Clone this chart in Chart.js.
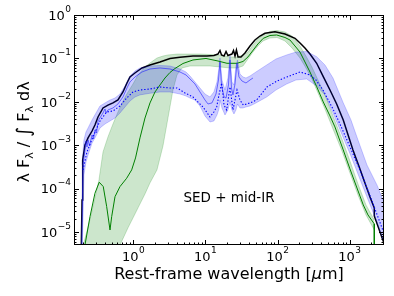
<!DOCTYPE html>
<html><head><meta charset="utf-8">
<script src="https://cdn.jsdelivr.net/npm/chart.js@4.4.0/dist/chart.umd.min.js"></script>
<style>html,body{margin:0;padding:0;background:#fff}canvas{display:block}</style>
</head><body>
<canvas id="c" width="394" height="296"></canvas>
<script>
// ---- data (wavelength in micron, flux = lambda F_lambda / integral) ----
const blackWave = [0.189,0.194,0.198,0.213,0.235,0.267,0.293,0.323,0.379,0.444,0.521,0.611,0.717,0.815,0.897,1.05,1.32,1.70,2.34,3.22,4.43,6.71,10.5,13.1,14.9,15.9,16.7,18.1,19.3,20.5,23.3,24.5,25.7,26.9,28.3,31.1,35.3,41.5,48.6,57.1,66.9,92.1,127,175,205,240,282,349,431,534,661,816,1113,1392,1916,2200,2200,3094];
const blackFlux = [3.85e-6,5.46e-5,4.56e-4,1.01e-3,1.47e-3,2.12e-3,2.92e-3,4.47e-3,7.2e-3,8.4e-3,9.4e-3,0.011,0.0168,0.0271,0.0373,0.0461,0.0601,0.0705,0.0826,0.0995,0.106,0.1135,0.1135,0.1167,0.126,0.152,0.120,0.1135,0.144,0.1167,0.126,0.152,0.1135,0.156,0.108,0.108,0.133,0.193,0.265,0.328,0.379,0.412,0.365,0.290,0.226,0.174,0.126,0.0771,0.0379,0.0187,8.9e-3,3.81e-3,7.75e-4,2.83e-4,6.4e-5,3.57e-5,2.34e-5,4.75e-6];

const greenWave = [0.213,0.250,0.293,0.336,0.382,0.426,0.474,0.500,0.556,0.652,0.807,0.947,1.07,1.235,1.449,1.699,1.994,2.339,2.744,3.219,3.776,4.876,6.71,10.17,14.9,19.9,27.4,33.2,38.9,46.1,53.5,63.4,78.6,97.3,126.8,148.8,174.6,204.8,240.3,281.8,349,431,534,626,816,1011,1265,1547,1797,2200,2200];
const greenFlux = [5.01e-6,2.25e-5,7.8e-5,1.40e-4,1.11e-4,3.83e-5,1.11e-5,2.25e-5,6.5e-5,1.11e-4,1.73e-4,2.69e-4,5.07e-4,1.47e-3,4.23e-3,9.4e-3,0.0168,0.0244,0.0353,0.0473,0.0585,0.0763,0.0919,0.0995,0.0871,0.0771,0.0771,0.0849,0.108,0.156,0.215,0.290,0.337,0.346,0.303,0.265,0.193,0.140,0.0826,0.0486,0.0223,9.9e-3,4.71e-3,2.63e-3,7.75e-4,2.83e-4,1.03e-4,4.19e-5,2.47e-5,1.53e-5,1e-7];

const gBandWave = [0.200,0.227,0.258,0.293,0.333,0.379,0.444,0.521,0.611,0.652,0.741,0.841,0.987,1.158,1.449,1.699,2.125,2.574,3.020,3.543,4.026,4.724,6.10,8.39,11.55,15.9,21.9,27.4,33.2,38.9,45.6,53.5,62.8,78.6,98.2,126.8,158.6,204.8,248,300,364,455,588,783,1011,1306,1687,2200];
const gBandHigh = [4.75e-6,1.05e-5,2.40e-5,6.07e-5,1.58e-4,6.97e-4,1.55e-3,3.08e-3,5.82e-3,7.35e-3,0.0116,0.0168,0.0257,0.0415,0.0634,0.0783,0.102,0.1135,0.120,0.123,0.126,0.126,0.126,0.126,0.123,0.120,0.108,0.108,0.120,0.140,0.204,0.280,0.346,0.417,0.440,0.406,0.328,0.193,0.1135,0.0634,0.0318,0.0144,4.71e-3,1.39e-3,4.32e-4,1.28e-4,4.19e-5,1.89e-5];
const gBandLow = [1e-7,1e-7,1e-7,1e-7,1e-7,1e-7,1e-7,1e-7,1e-7,5.01e-6,7.87e-6,1.24e-5,2.10e-5,3.57e-5,7.52e-5,1.35e-4,2.69e-4,9.6e-4,4.23e-3,0.0187,0.0415,0.0601,0.0668,0.0668,0.0668,0.0634,0.0601,0.0601,0.0668,0.0969,0.140,0.193,0.252,0.295,0.303,0.252,0.174,0.102,0.0601,0.0335,0.0160,6.83e-3,2.36e-3,7.35e-4,2.29e-4,7.13e-5,2.47e-5,1.11e-5];

const specWave = [0.192,0.196,0.200,0.213,0.220,0.227,0.235,0.246,0.267,0.280,0.293,0.308,0.323,0.379,0.404,0.417,0.444,0.521,0.611,0.717,0.815,0.897,1.052,1.316,1.699,2.339,3.219,4.43,5.37,6.10,7.15,8.39,9.85,10.84,12.31,14.0,15.16,15.9,16.7,18.1,19.3,20.86,21.9,22.96,24.09,25.7,27.4,29.17,32.1,36.5,41.5,45.6];
const specFlux = [5.01e-6,5.46e-5,3.50e-4,7.75e-4,1.25e-3,9.1e-4,1.32e-3,9.6e-4,1.72e-3,1.39e-3,2.24e-3,1.91e-3,3.61e-3,5.52e-3,6.83e-3,5.52e-3,6.47e-3,7.2e-3,8.9e-3,0.0129,0.0208,0.0286,0.0373,0.0486,0.0570,0.0601,0.0570,0.0486,0.0415,0.0335,0.0257,0.0168,0.0110,8.9e-3,9.4e-3,0.0151,0.0318,0.0826,0.0244,0.0129,0.0122,0.0244,0.0919,0.0208,0.0144,0.0257,0.0783,0.0373,0.0301,0.0271,0.0318,0.0353];

const dottedWave = [0.200,0.227,0.275,0.344,0.426,0.521,0.652,0.807,0.987,1.235,1.699,2.339,3.219,4.026,5.20,6.71,9.24,11.55,13.1,14.31,15.40,16.79,18.1,19.70,21.9,24.09,27.4,30.1,33.5,41.5,51.3,71.3,98.2,135.2,204.8,281.8,341.5,426.9,588,734.8,1011,1392,2043,3094];
const dottedFlux = [2.69e-4,6.97e-4,1.55e-3,3.61e-3,5.82e-3,6.14e-3,8.0e-3,0.0122,0.0168,0.0187,0.0197,0.0219,0.0208,0.0208,0.0160,0.0129,7.6e-3,4.47e-3,5.82e-3,7.6e-3,0.0144,0.0271,8.4e-3,6.47e-3,0.0219,6.47e-3,0.0187,0.0110,8.4e-3,9.4e-3,0.0110,0.0219,0.0301,0.0373,0.0486,0.0415,0.0318,0.0187,6.83e-3,3.08e-3,9.1e-4,2.69e-4,5.18e-5,8.1e-6];

const bBandWave = [0.194,0.206,0.220,0.235,0.267,0.303,0.344,0.404,0.474,0.556,0.652,0.765,0.897,1.052,1.235,1.699,2.339,3.219,4.43,5.37,6.10,7.15,8.39,9.85,11.55,13.1,14.45,15.40,15.9,16.95,18.66,20.5,21.9,23.3,24.86,26.5,27.8,30.1,33.2,36.5,41.5,50.2,70.7,95.1,133.9,180.2,253.7,349,455,588,808.6,1044,1306,1741,2396,3094];
const bBandHigh = [3.50e-4,1.32e-3,2.01e-3,2.49e-3,3.81e-3,5.52e-3,8.0e-3,9.4e-3,0.0110,0.0122,0.0151,0.0231,0.0393,0.0513,0.0601,0.0668,0.0686,0.0668,0.0570,0.0486,0.0393,0.0286,0.0208,0.0151,0.0129,0.0168,0.0286,0.0601,0.102,0.0318,0.0187,0.0353,0.1135,0.0286,0.0244,0.0668,0.0919,0.0437,0.0373,0.0353,0.0393,0.0486,0.0705,0.0969,0.120,0.140,0.144,0.1094,0.0705,0.0353,9.8e-3,3.81e-3,1.32e-3,3.50e-4,1.21e-4,4.19e-5];
const bBandLow = [2.26e-6,2.06e-4,4.10e-4,5.94e-4,1.12e-3,1.63e-3,2.49e-3,3.08e-3,3.61e-3,4.23e-3,5.52e-3,7.6e-3,0.0104,0.0129,0.0144,0.0157,0.0168,0.0168,0.0151,0.0136,0.0122,0.0110,8.0e-3,4.71e-3,3.42e-3,3.61e-3,4.96e-3,6.83e-3,0.0110,7.2e-3,4.96e-3,6.47e-3,9.9e-3,6.47e-3,5.24e-3,6.47e-3,8.9e-3,7.2e-3,7.2e-3,7.6e-3,8.0e-3,9.4e-3,0.0129,0.0187,0.0257,0.0318,0.0335,0.0231,0.0144,5.52e-3,1.55e-3,5.64e-4,2.17e-4,6.4e-5,1.70e-5,4.75e-6];

// ---- axes / tick labels ----
const xMin = 0.15, xMax = 3000, yMin = 5e-6, yMax = 1;
const xTickValues = [1, 10, 100, 1000];
const xTickExp = ['0', '1', '2', '3'];
const yTickValues = [1, 0.1, 0.01, 0.001, 1e-4, 1e-5];
const yTickExp = ['0', '\u22121', '\u22122', '\u22123', '\u22124', '\u22125'];
const xTitle = ['Rest-frame wavelength [', '\u03bc', 'm]'];
const annotation = 'SED + mid-IR';

function minorTicks(lo, hi) {
  const out = [];
  for (let d = Math.floor(Math.log10(lo)); d <= Math.ceil(Math.log10(hi)); d++) {
    for (let k = 2; k <= 9; k++) {
      const v = k * Math.pow(10, d);
      if (v > lo && v < hi) out.push(v);
    }
  }
  return out;
}

const pts = (xs, ys) => xs.map((x, i) => ({x: x, y: ys[i]}));
const ds = (data, color, width, extra) => Object.assign({
  data: data, borderColor: color, borderWidth: width, pointRadius: 0,
  pointHoverRadius: 0, fill: false, tension: 0, clip: 0
}, extra || {});

const FONT = '"DejaVu Sans", "Liberation Sans", sans-serif';

const decor = {
  id: 'decor',
  afterDraw(chart) {
    const ctx = chart.ctx, a = chart.chartArea;
    const xs = chart.scales.x, ys = chart.scales.y;
    ctx.save();
    ctx.strokeStyle = '#000';
    ctx.lineWidth = 1;
    ctx.strokeRect(a.left + 0.5, a.top + 0.5, a.right - a.left - 1, a.bottom - a.top - 1);
    ctx.beginPath();
    const xt = (v, len) => {
      const p = Math.round(xs.getPixelForValue(v)) + 0.5;
      ctx.moveTo(p, a.bottom); ctx.lineTo(p, a.bottom - len);
      ctx.moveTo(p, a.top); ctx.lineTo(p, a.top + len);
    };
    const yt = (v, len) => {
      const p = Math.round(ys.getPixelForValue(v)) + 0.5;
      ctx.moveTo(a.left, p); ctx.lineTo(a.left + len, p);
      ctx.moveTo(a.right, p); ctx.lineTo(a.right - len, p);
    };
    xTickValues.forEach(v => xt(v, 5));
    minorTicks(xMin, xMax).forEach(v => xt(v, 2.5));
    yTickValues.forEach(v => yt(v, 5));
    minorTicks(yMin, yMax).forEach(v => yt(v, 2.5));
    ctx.stroke();

    ctx.fillStyle = '#000';
    ctx.textBaseline = 'alphabetic';
    ctx.textAlign = 'left';
    const pow = (exp, x, y, align) => {
      ctx.font = '13px ' + FONT;
      const w1 = ctx.measureText('10').width;
      ctx.font = '9px ' + FONT;
      const w2 = ctx.measureText(exp).width;
      const tot = w1 + 0.5 + w2;
      const x0 = align === 'right' ? x - tot : x - tot / 2;
      ctx.font = '13px ' + FONT;
      ctx.fillText('10', x0, y);
      ctx.font = '9px ' + FONT;
      ctx.fillText(exp, x0 + w1 + 0.5, y - 8);
    };
    xTickValues.forEach((v, i) => pow(xTickExp[i], xs.getPixelForValue(v), 261, 'center'));
    yTickValues.forEach((v, i) => pow(yTickExp[i], 71, ys.getPixelForValue(v) + 4.8, 'right'));

    ctx.font = '16px ' + FONT;
    const w0 = ctx.measureText(xTitle[0]).width;
    ctx.font = 'italic 16px ' + FONT;
    const wm = ctx.measureText(xTitle[1]).width;
    ctx.font = '16px ' + FONT;
    const w3 = ctx.measureText(xTitle[2]).width;
    const tx = (a.left + a.right) / 2 - (w0 + wm + w3) / 2;
    ctx.fillText(xTitle[0], tx, 279);
    ctx.font = 'italic 16px ' + FONT;
    ctx.fillText(xTitle[1], tx + w0, 279);
    ctx.font = '16px ' + FONT;
    ctx.fillText(xTitle[2], tx + w0 + wm, 279);

    ctx.save();
    ctx.translate(29, 132);
    ctx.rotate(-Math.PI / 2);
    const parts = [['\u03bb F', 16, 0], ['\u03bb', 11, 4], [' / ', 16, 0], ['\u222b', 19, 1], [' F', 16, 0], ['\u03bb', 11, 4], [' d\u03bb', 16, 0]];
    let tot = 0;
    parts.forEach(p => { ctx.font = p[1] + 'px ' + FONT; p.push(ctx.measureText(p[0]).width); tot += p[3]; });
    let px = -tot / 2;
    parts.forEach(p => { ctx.font = p[1] + 'px ' + FONT; ctx.fillText(p[0], px, p[2]); px += p[3]; });
    ctx.restore();

    ctx.font = '13.5px ' + FONT;
    ctx.textAlign = 'center';
    ctx.fillText(annotation, (a.left + a.right) / 2, 202);
    ctx.restore();
  }
};

new Chart(document.getElementById('c'), {
  type: 'line',
  data: {
    datasets: [
      ds(pts(dottedWave, dottedFlux), '#0000ff', 1.1, {borderDash: [1.4, 1.8], order: 0}),
      ds(pts(specWave, specFlux), 'rgba(30,30,255,0.6)', 1, {order: 1}),
      ds(pts(greenWave, greenFlux), '#008000', 1, {order: 2}),
      ds(pts(bBandWave, bBandHigh), 'rgba(0,0,255,0.25)', 0.8, {fill: '+1', backgroundColor: 'rgba(0,0,255,0.2)', order: 3}),
      ds(pts(bBandWave, bBandLow), 'rgba(0,0,255,0.25)', 0.8, {order: 4}),
      ds(pts(blackWave, blackFlux), '#000000', 1.5, {order: 5}),
      ds(pts(gBandWave, gBandHigh), 'rgba(0,128,0,0.25)', 0.8, {fill: '+1', backgroundColor: 'rgba(0,128,0,0.2)', order: 6}),
      ds(pts(gBandWave, gBandLow), 'rgba(0,128,0,0.25)', 0.8, {order: 7})
    ]
  },
  options: {
    responsive: false,
    animation: false,
    devicePixelRatio: 1,
    layout: {padding: {top: 15, right: 10, left: 0, bottom: 0}},
    plugins: {legend: {display: false}, tooltip: {enabled: false}},
    events: [],
    scales: {
      x: {
        type: 'logarithmic', min: xMin, max: xMax, position: 'bottom',
        grid: {display: false}, border: {display: false},
        ticks: {display: false},
        afterFit: s => { s.height = 51; }
      },
      y: {
        type: 'logarithmic', min: yMin, max: yMax, position: 'left',
        grid: {display: false}, border: {display: false},
        ticks: {display: false},
        afterFit: s => { s.width = 74; }
      }
    }
  },
  plugins: [decor]
});
</script>
</body></html>
